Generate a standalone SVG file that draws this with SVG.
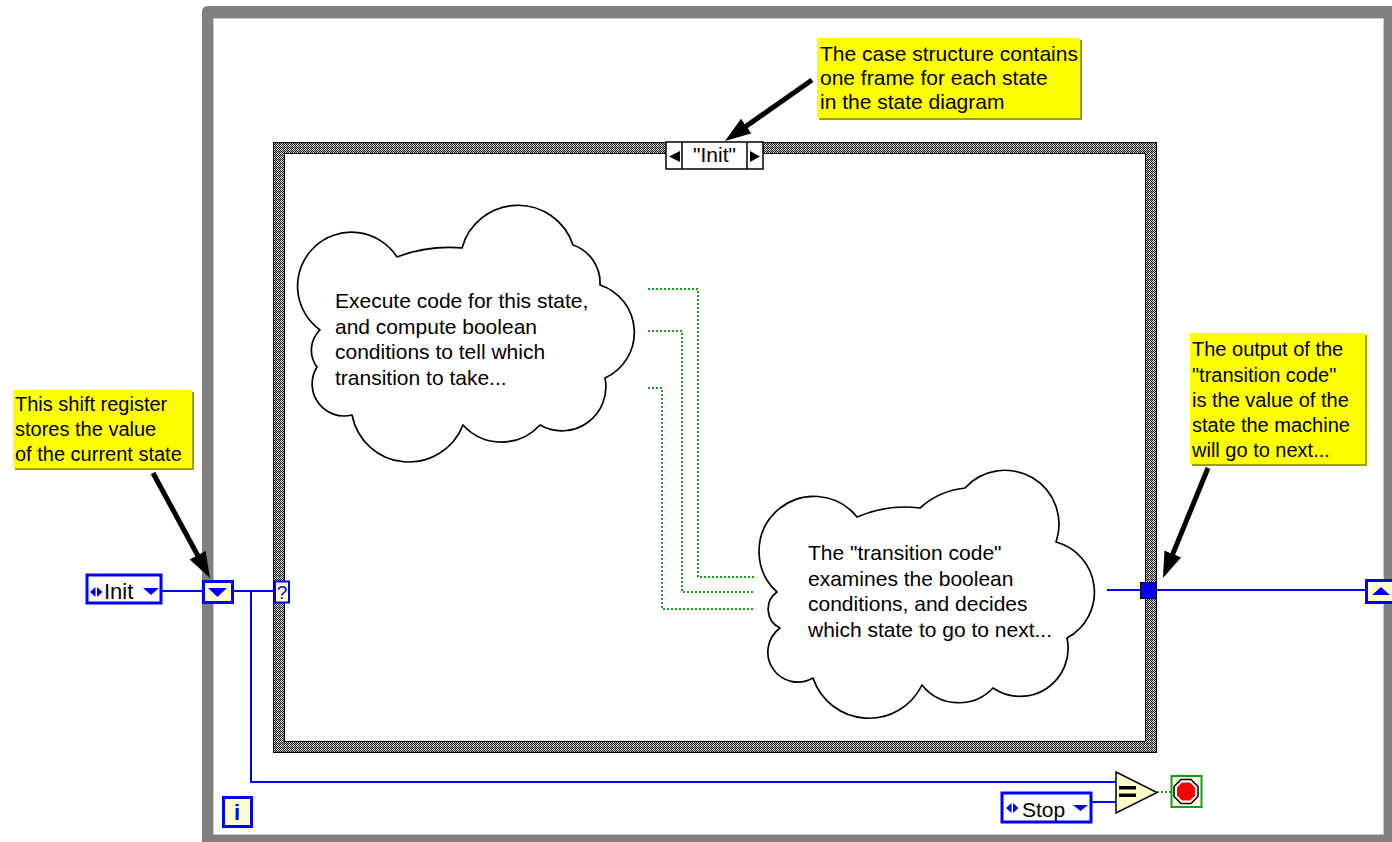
<svg xmlns="http://www.w3.org/2000/svg" width="1392" height="842" viewBox="0 0 1392 842">
<defs>
<style>
.t{font-family:"Liberation Sans",Arial,sans-serif;fill:#000}
.f21{font-size:21px}
.f20{font-size:20px}
.w{stroke:#0000ff;stroke-width:2;fill:none}
.g{stroke:#17a017;stroke-width:2;stroke-dasharray:2 2;fill:none}
.note{fill:#ffff00}
.shd{fill:#a0a000}
.cloud{fill:#fff;stroke:#000;stroke-width:1.7;stroke-linejoin:round}
.arr{stroke:#000;stroke-width:5;fill:none;marker-end:url(#ah)}
.bbox{fill:#fff;stroke:#0000ff;stroke-width:3}
.cream{fill:#ffffcc;stroke:#0000ff;stroke-width:3}
.bt{fill:#0000ff}
</style>
<pattern id="chk" width="4" height="4" patternUnits="userSpaceOnUse">
<rect width="4" height="4" fill="#1a1a1a"/>
<rect x="1" y="0" width="1" height="1" fill="#fff"/>
<rect x="0" y="1" width="1" height="1" fill="#fff"/>
<rect x="2" y="1" width="1" height="1" fill="#fff"/>
<rect x="1" y="2" width="1" height="1" fill="#fff"/>
<rect x="3" y="2" width="1" height="1" fill="#bbb"/>
<rect x="2" y="3" width="1" height="1" fill="#bbb"/>
<rect x="3" y="0" width="1" height="1" fill="#999"/>
<rect x="0" y="3" width="1" height="1" fill="#999"/>
</pattern>
<marker id="ah" markerUnits="userSpaceOnUse" markerWidth="26" markerHeight="18" viewBox="0 0 26 18" refX="4" refY="9" orient="auto">
<path d="M0,0 L26,9 L0,18 Z" fill="#000"/>
</marker>
</defs>
<rect width="1392" height="842" fill="#fff"/>

<g id="while-loop">
<path fill="#808080" fill-rule="evenodd" d="M208,6 H1400 V850 H202 V12 Q202,6 208,6 Z M213,18 V835 H1384 V18 Z"/>
<rect x="213.5" y="18.5" width="1170" height="816" fill="none" stroke="#c8c8c8" stroke-width="1"/>
</g>

<g id="case-structure">
<path fill="url(#chk)" fill-rule="evenodd" d="M273,142 H1157 V753 H273 Z M285,154 V741 H1145 V154 Z"/>
<rect x="273.5" y="142.5" width="883" height="610" fill="none" stroke="#000" stroke-width="1"/>
<rect x="284.5" y="153.5" width="861" height="588" fill="none" stroke="#000" stroke-width="1"/>
</g>

<g id="case-selector">
<rect x="666" y="142" width="97" height="27" fill="#fff" stroke="#000" stroke-width="1.5"/>
<line x1="682" y1="142" x2="682" y2="169" stroke="#000" stroke-width="1.5"/>
<line x1="747" y1="142" x2="747" y2="169" stroke="#000" stroke-width="1.5"/>
<polygon points="669,156.5 680,151 680,162" fill="#000"/>
<polygon points="750,151 760,156.5 750,162" fill="#000"/>
<text class="t f21" x="714.5" y="162" text-anchor="middle">"Init"</text>
</g>

<g id="connectors">
<path class="w" d="M162,591 H203"/>
<path class="w" d="M233,591 H274"/>
<path class="w" d="M251,591 V782 H1116"/>
<path class="w" d="M1092,802 H1116"/>
<path class="w" d="M1107,590 H1366"/>
<path class="g" d="M648,289 H698 V577 H754"/>
<path class="g" d="M648,331 H682 V592 H754"/>
<path class="g" d="M648,388 H662 V609 H754"/>
<path class="g" d="M1157,792 H1171"/>
</g>

<g id="cloud-execute">
<path class="cloud" d="M397,257 A150,150 0 0 1 462,248 A58,58 0 0 1 573,245 A40,40 0 0 1 600,285 A50,50 0 0 1 605,378 A44,44 0 0 1 540,425 A52,52 0 0 1 463,425 A58,58 0 0 1 352,415 A32,32 0 0 1 317,367 A28,28 0 0 1 320,330 A54,54 0 1 1 397,257 Z"/>
<text class="t f21" x="335" y="308">Execute code for this state,</text>
<text class="t f21" x="335" y="333.5">and compute boolean</text>
<text class="t f21" x="335" y="359">conditions to tell which</text>
<text class="t f21" x="335" y="384.5">transition to take...</text>
</g>

<g id="cloud-transition">
<path class="cloud" d="M857,517 A120,120 0 0 1 920,508 A80,80 0 0 1 965,488 A54,54 0 0 1 1056,542 A52,52 0 0 1 1067,638 A48,48 0 0 1 993,688 A47,47 0 0 1 922,685 A59,59 0 0 1 813,678 A30,30 0 0 1 780,628 A21,21 0 0 1 777,592 A55,55 0 1 1 857,517 Z"/>
<text class="t f21" x="808" y="560">The "transition code"</text>
<text class="t f21" x="808" y="585.5">examines the boolean</text>
<text class="t f21" x="808" y="611">conditions, and decides</text>
<text class="t f21" x="808" y="636.5">which state to go to next...</text>
</g>

<g id="init-constant">
<rect class="bbox" x="87" y="575" width="74" height="28"/>
<polygon class="bt" points="90,592 95.5,587 95.5,597"/>
<polygon class="bt" points="97,587 102.5,592 97,597"/>
<text class="t" x="104" y="599" font-size="22">Init</text>
<polygon class="bt" points="143,588 159,588 151,595"/>
</g>

<g id="shift-register-left">
<rect class="cream" x="203.5" y="581.5" width="29" height="21"/>
<polygon class="bt" points="208,588 227,588 217.5,597"/>
</g>

<g id="case-selector-terminal">
<rect x="275" y="581.5" width="14" height="21" fill="#ffffcc" stroke="#0000ff" stroke-width="2"/>
<text x="282" y="599" font-family="Liberation Sans, Arial, sans-serif" font-size="19" text-anchor="middle" fill="#0000ff">?</text>
</g>

<g id="output-tunnel">
<rect x="1140.5" y="582.5" width="16" height="16" fill="#0000ff" stroke="#000" stroke-width="1"/>
</g>

<g id="shift-register-right">
<rect class="cream" x="1366.5" y="580.5" width="30" height="22"/>
<polygon class="bt" points="1372,595 1390,595 1381,587"/>
</g>

<g id="iteration-terminal">
<rect class="cream" x="223.5" y="797.5" width="28" height="29"/>
<text x="237" y="820" font-family="Liberation Sans, Arial, sans-serif" font-size="22" font-weight="bold" text-anchor="middle" fill="#0000ff">i</text>
</g>

<g id="stop-constant">
<rect class="bbox" x="1002" y="793" width="89" height="29"/>
<polygon class="bt" points="1006,808 1011.5,803 1011.5,813"/>
<polygon class="bt" points="1013,803 1018.5,808 1013,813"/>
<text class="t f21" x="1022" y="816.5">Stop</text>
<polygon class="bt" points="1073,805 1088,805 1080.5,811"/>
</g>

<g id="equal-comparator">
<polygon points="1116,772 1157,792.5 1116,813" fill="#ffffcc" stroke="#000" stroke-width="1.5"/>
<rect x="1119" y="786" width="17" height="3.5" fill="#000"/>
<rect x="1119" y="793.5" width="17" height="3.5" fill="#000"/>
</g>

<g id="stop-terminal">
<rect x="1171.5" y="776" width="30" height="31" fill="#ffffe8" stroke="#14a014" stroke-width="2"/>
<polygon points="1181,779.5 1191,779.5 1198,786.5 1198,796.5 1191,803.5 1181,803.5 1174,796.5 1174,786.5" fill="#fff" stroke="#000" stroke-width="1.5"/>
<polygon points="1182,782.5 1190,782.5 1195,787.5 1195,795.5 1190,800.5 1182,800.5 1177,795.5 1177,787.5" fill="#ff0000"/>
</g>

<g id="note-case">
<rect class="shd" x="819" y="40" width="263" height="80"/>
<rect class="note" x="817" y="38" width="263" height="80"/>
<text class="t f21" x="820" y="61">The case structure contains</text>
<text class="t f21" x="820" y="85">one frame for each state</text>
<text class="t f21" x="820" y="109">in the state diagram</text>
<path class="arr" d="M812,80 L743,128.4"/>
</g>

<g id="note-shift">
<rect class="shd" x="15" y="392" width="179" height="78"/>
<rect class="note" x="13" y="390" width="179" height="78"/>
<text class="t f20" x="15" y="411">This shift register</text>
<text class="t f20" x="15" y="436">stores the value</text>
<text class="t f20" x="15" y="461">of the current state</text>
<path class="arr" d="M153,473 L199.5,558.7"/>
</g>

<g id="note-output">
<rect class="shd" x="1192" y="335" width="175" height="131"/>
<rect class="note" x="1190" y="333" width="175" height="131"/>
<text class="t f20" x="1192" y="356">The output of the</text>
<text class="t f20" x="1192" y="381.5">"transition code"</text>
<text class="t f20" x="1192" y="407">is the value of the</text>
<text class="t f20" x="1192" y="432">state the machine</text>
<text class="t f20" x="1192" y="457">will go to next...</text>
<path class="arr" d="M1208,468 L1171.3,557.6"/>
</g>
</svg>
